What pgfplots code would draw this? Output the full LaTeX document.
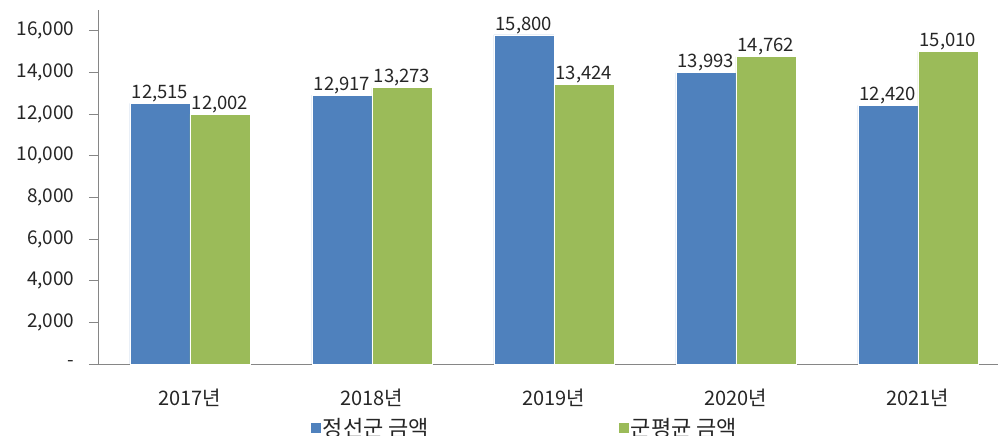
\documentclass[border=0pt]{standalone}
\usepackage{pgfplots}
\pgfplotsset{compat=1.18}
\usepackage{fontspec}
\setmainfont{Noto Sans CJK KR}

\definecolor{barblue}{HTML}{4F81BD}
\definecolor{bargreen}{HTML}{9BBB59}
\definecolor{axisgray}{HTML}{868686}
\definecolor{txt}{HTML}{262626}

\begin{document}
\begin{tikzpicture}
\begin{axis}[
    scale only axis,
    width=899pt, height=354pt,
    xmin=-0.5, xmax=4.44,
    ymin=0, ymax=17000,
    scaled y ticks=false,
    axis x line*=bottom, axis y line*=left,
    axis line style={axisgray, line width=1pt},
    every tick/.style={axisgray, line width=1pt},
    tick align=outside,
    major tick length=10pt,
    xtick={0,1,2,3,4},
    xticklabels={2017년,2018년,2019년,2020년,2021년},
    x tick style={draw=none},
    extra x ticks={-0.5,0.5,1.5,2.5,3.5},
    extra x tick labels={},
    extra x tick style={major tick length=8pt, tick style={axisgray, line width=1pt}},
    ytick={0,2000,4000,6000,8000,10000,12000,14000,16000},
    yticklabels={-,{2,000},{4,000},{6,000},{8,000},{10,000},{12,000},{14,000},{16,000}},
    ticklabel style={text=txt},
    yticklabel style={xshift=-11pt, font=\fontsize{19}{22}\selectfont},
    xticklabel style={yshift=-11pt, font=\fontsize{20}{23}\selectfont},
    /pgf/number format/assume math mode=true,
    ybar, bar width=60pt,
    nodes near coords,
    nodes near coords style={font=\fontsize{18.5}{21}\selectfont, text=txt, inner sep=1pt,
        /pgf/number format/1000 sep={,}},
    legend columns=2,
    legend style={draw=none, fill=none, at={(0.232,-0.181)}, anchor=west,
        font=\fontsize{22}{25}\selectfont, text=txt,
        /tikz/every even column/.append style={column sep=188pt}},
    legend image code/.code={\fill[#1, draw=none] (0pt,-5pt) rectangle (10pt,5pt);},
]
\addplot[fill=barblue, draw=white, line width=0.8pt, bar shift=-30pt]
    coordinates {(0,12515) (1,12917) (2,15800) (3,13993) (4,12420)};
\addplot[fill=bargreen, draw=white, line width=0.8pt, bar shift=30pt]
    coordinates {(0,12002) (1,13273) (2,13424) (3,14762) (4,15010)};
\legend{정선군 금액, 군평균 금액}
\coordinate (o) at (rel axis cs:0,0);
\coordinate (t) at (rel axis cs:1,1);
\end{axis}
\pgfresetboundingbox
\path[use as bounding box] ([xshift=-99pt,yshift=-72pt]o) rectangle ([yshift=10pt]t);
\end{tikzpicture}
\end{document}
